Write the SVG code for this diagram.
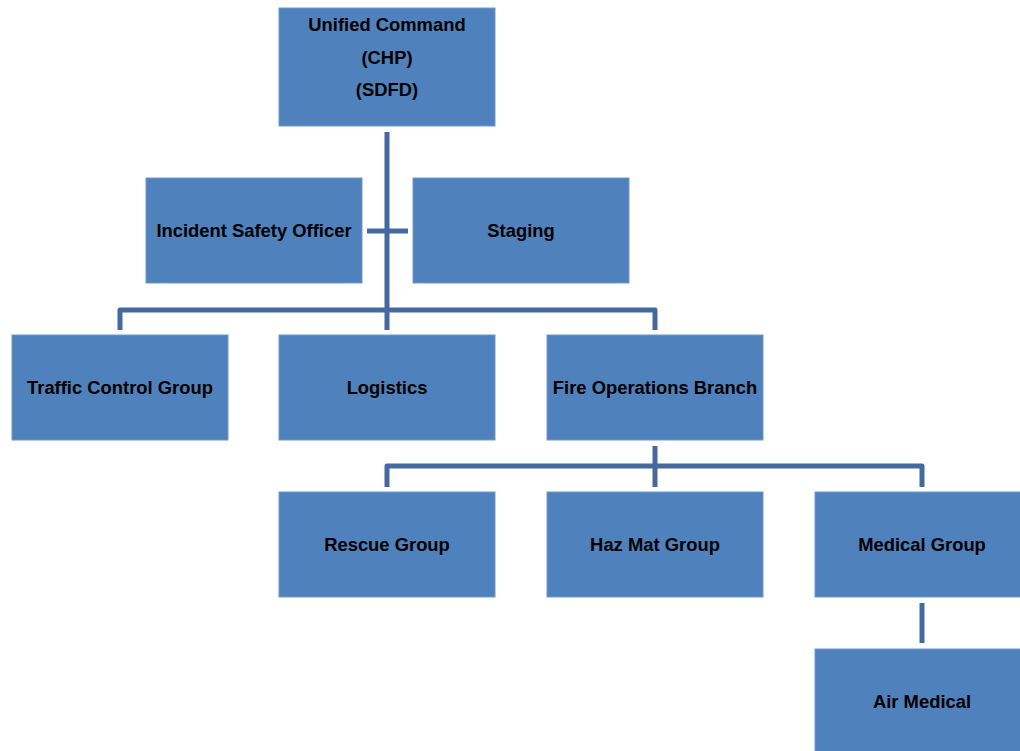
<svg xmlns="http://www.w3.org/2000/svg" width="1020" height="751" viewBox="0 0 1020 751">
<style>
.box{fill:#4F81BD;stroke:#6f97c9;stroke-width:1}
.t{font-family:"Liberation Sans",Arial,sans-serif;font-weight:bold;font-size:18.4px;fill:#000;text-anchor:middle}
.c{fill:none;stroke:#44699E;stroke-width:5;stroke-linejoin:round}
</style>
<rect width="1020" height="751" fill="#fff"/>
<g id="connectors">
<path class="c" d="M387,132 V330"/>
<path class="c" d="M367,231 H408"/>
<path class="c" d="M120,330 V310 H655 V330"/>
<path class="c" d="M655,446 V487"/>
<path class="c" d="M387,487 V466 H922 V487"/>
<path class="c" d="M922,603 V643"/>
</g>
<g id="unified-command"><rect class="box" x="279" y="8" width="216" height="118"/>
<text class="t" x="387" y="31">Unified Command</text>
<text class="t" x="387" y="64">(CHP)</text>
<text class="t" x="387" y="96">(SDFD)</text></g>
<g id="iso"><rect class="box" x="146" y="178" width="216" height="105"/><text class="t" x="254" y="237">Incident Safety Officer</text></g>
<g id="staging"><rect class="box" x="413" y="178" width="216" height="105"/><text class="t" x="521" y="237">Staging</text></g>
<g id="traffic"><rect class="box" x="12" y="335" width="216" height="105"/><text class="t" x="120" y="394">Traffic Control Group</text></g>
<g id="logistics"><rect class="box" x="279" y="335" width="216" height="105"/><text class="t" x="387" y="394">Logistics</text></g>
<g id="fire-ops"><rect class="box" x="547" y="335" width="216" height="105"/><text class="t" x="655" y="394">Fire Operations Branch</text></g>
<g id="rescue"><rect class="box" x="279" y="492" width="216" height="105"/><text class="t" x="387" y="551">Rescue Group</text></g>
<g id="hazmat"><rect class="box" x="547" y="492" width="216" height="105"/><text class="t" x="655" y="551">Haz Mat Group</text></g>
<g id="medical"><rect class="box" x="815" y="492" width="216" height="105"/><text class="t" x="922" y="551">Medical Group</text></g>
<g id="air-medical"><rect class="box" x="815" y="649" width="216" height="110"/><text class="t" x="922" y="708">Air Medical</text></g>
</svg>
